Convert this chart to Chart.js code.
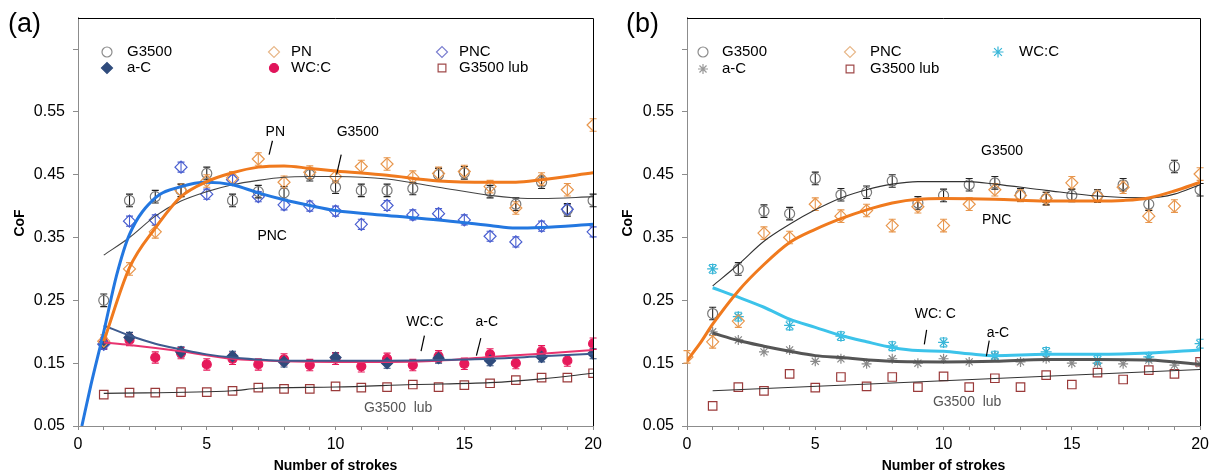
<!DOCTYPE html>
<html>
<head>
<meta charset="utf-8">
<script src="https://cdn.jsdelivr.net/npm/chart.js@4.4.1/dist/chart.umd.min.js"></script>
<style>
  html, body { margin: 0; padding: 0; background: #fff; }
  #wrap { position: relative; width: 1214px; height: 471px; overflow: hidden; }
  .panel { position: absolute; top: 0; width: 607px; height: 471px; }
  #pa { left: 0; }
  #pb { left: 607px; }
</style>
</head>
<body>
<div id="wrap">
  <div class="panel" id="pa"><canvas id="ca"></canvas></div>
  <div class="panel" id="pb"><canvas id="cb"></canvas></div>
</div>
<script>
// ---- data --------------------------------------------------------------
const strokes   = [1,2,3,4,5,6,7,8,9,10,11,12,13,14,15,16,17,18,19,20];
const strokes0  = [0,1,2,3,4,5,6,7,8,9,10,11,12,13,14,15,16,17,18,19,20];
const evenStrokes = [1,2,4,6,8,10,12,14,16,18,20];
const yTicks = [0.05,0.15,0.25,0.35,0.45,0.55,0.65];

// panel (a): measured points
const aG3500 = [0.250,0.409,0.415,0.425,0.452,0.409,0.423,0.421,0.450,0.430,0.425,0.425,0.428,0.450,0.453,0.423,0.403,0.438,0.394,0.409];
const aPN    = [0.185,0.300,0.359,0.425,0.440,0.445,0.475,0.438,0.454,0.447,0.463,0.467,0.446,0.452,0.455,0.431,0.397,0.443,0.426,0.529];
const aPNC   = [0.180,0.376,0.378,0.462,0.419,0.442,0.415,0.402,0.400,0.392,0.371,0.401,0.386,0.388,0.378,0.352,0.343,0.368,0.395,0.359];
const aAC    = [0.181,0.191,0.168,0.161,0.152,0.159,0.150,0.158,0.154,0.160,0.165];
const aWCC   = [0.182,0.187,0.159,0.166,0.148,0.157,0.148,0.156,0.147,0.157,0.145,0.157,0.147,0.161,0.149,0.164,0.150,0.169,0.154,0.181];
const aLub   = [0.100,0.103,0.103,0.104,0.104,0.106,0.111,0.109,0.109,0.113,0.111,0.112,0.116,0.112,0.115,0.118,0.123,0.127,0.127,0.134];

// panel (a): trend curves
const aFitPNx  = [1,2,3,4,5,6,7,8,9,10,12,14,16,17,18,20];
const aFitPN   = [0.185,0.302,0.365,0.415,0.439,0.453,0.462,0.464,0.460,0.456,0.449,0.440,0.438,0.438,0.442,0.453];
const aFitPNCx = [0.15,0.5,1,1.5,2,3,4,5,6,7,8,9,10,12,14,16,17,18,20];
const aFitPNC  = [0.050,0.115,0.200,0.290,0.355,0.413,0.431,0.438,0.434,0.421,0.410,0.401,0.393,0.385,0.378,0.369,0.365,0.366,0.371];
const aFitGx   = [1,2,3,4,5,6,7,8,9,10,12,14,16,17,18,20];
const aFitG    = [0.322,0.350,0.384,0.408,0.423,0.434,0.441,0.446,0.447,0.447,0.443,0.430,0.417,0.413,0.412,0.415];
const aFitACx  = [1,2,3,4,5,6,8,10,12,14,16,18,20];
const aFitAC   = [0.210,0.194,0.181,0.172,0.164,0.159,0.154,0.154,0.154,0.155,0.157,0.161,0.165];
const aFitWCCx = [1,2,4,6,8,10,12,14,16,18,20];
const aFitWCC  = [0.183,0.179,0.169,0.157,0.153,0.152,0.152,0.154,0.160,0.165,0.171];
const aFitLubx = [1,6,7,10,13,16,18,20];
const aFitLub  = [0.102,0.106,0.110,0.112,0.116,0.119,0.125,0.134];

// panel (b): measured points
const bG3500 = [0.229,0.300,0.392,0.388,0.444,0.418,0.422,0.440,0.405,0.417,0.434,0.437,0.418,0.412,0.417,0.416,0.434,0.403,0.463,0.426];
const bPNC   = [0.160,0.184,0.217,0.357,0.350,0.403,0.384,0.393,0.369,0.399,0.369,0.403,0.426,0.417,0.412,0.437,0.416,0.430,0.384,0.400,0.451];
const bWCC   = [0.300,0.224,0.210,0.193,0.177,0.183,0.162,0.168,0.155,0.160,0.181];
const bAC    = [0.200,0.187,0.168,0.171,0.153,0.157,0.149,0.157,0.150,0.157,0.152,0.161,0.152,0.157,0.150,0.150,0.149,0.155,0.147,0.149];
const bLub   = [0.082,0.112,0.106,0.133,0.111,0.128,0.113,0.128,0.112,0.129,0.112,0.126,0.112,0.131,0.116,0.135,0.124,0.139,0.133,0.152];

// panel (b): trend curves
const bFitGx   = [1,2,3,4,5,6,7,8,9,10,11,12,14,16,18,19,20];
const bFitG    = [0.273,0.307,0.344,0.371,0.394,0.413,0.426,0.435,0.439,0.439,0.439,0.435,0.425,0.416,0.413,0.419,0.434];
const bFitPNCx = [0,0.5,1,2,3,4,5,6,7,8,9,10,12,14,16,17,18,19,20];
const bFitPNC  = [0.154,0.181,0.212,0.265,0.307,0.342,0.363,0.380,0.394,0.405,0.411,0.412,0.411,0.408,0.408,0.409,0.413,0.424,0.438];
const bFitWCCx = [1,2,3,4,5,6,7,8,9,10,11,12,14,16,18,20];
const bFitWCC  = [0.270,0.255,0.239,0.220,0.207,0.194,0.184,0.175,0.170,0.169,0.165,0.162,0.164,0.164,0.166,0.171];
const bFitACx  = [1,2,3,4,5,6,8,10,12,14,16,18,20];
const bFitAC   = [0.198,0.186,0.177,0.169,0.162,0.159,0.153,0.152,0.153,0.156,0.156,0.155,0.148];
const bFitLubx = [1,20];
const bFitLub  = [0.106,0.140];

// ---- helpers ------------------------------------------------------------
const FONT = '"Liberation Sans", Arial, Helvetica, sans-serif';
const pts = (xs, ys) => xs.map((x, i) => ({ x: x, y: ys[i] }));

function markerSet(xs, ys, style, stroke, fill, r, err, errColor) {
    return {
        data: pts(xs, ys), showLine: false,
        pointStyle: style, pointRadius: r, pointBorderWidth: 1.2,
        pointBorderColor: stroke, pointBackgroundColor: fill || 'rgba(0,0,0,0)',
        err: err || 0, errColor: errColor || stroke,
    };
}
function fitSet(xs, ys, color, width) {
    return {
        data: pts(xs, ys), showLine: true, fill: false,
        borderColor: color, borderWidth: width, pointRadius: 0,
        cubicInterpolationMode: 'monotone',
    };
}

// vertical error bars with caps, drawn under the markers
const errorBars = {
    id: 'errorBars',
    beforeDatasetsDraw(chart) {
        const ctx = chart.ctx, ys = chart.scales.y;
        ctx.save();
        ctx.lineWidth = 1.1;
        chart.data.datasets.forEach((ds, i) => {
            if (!ds.err) return;
            ctx.strokeStyle = ds.errColor;
            chart.getDatasetMeta(i).data.forEach((el, j) => {
                const v = ds.data[j].y;
                const y1 = ys.getPixelForValue(v - ds.err);
                const y2 = ys.getPixelForValue(v + ds.err);
                ctx.beginPath();
                ctx.moveTo(el.x, y1); ctx.lineTo(el.x, y2);
                ctx.moveTo(el.x - 3.5, y1); ctx.lineTo(el.x + 3.5, y1);
                ctx.moveTo(el.x - 3.5, y2); ctx.lineTo(el.x + 3.5, y2);
                ctx.stroke();
            });
        });
        ctx.restore();
    },
};

function drawMarker(ctx, m, x, y) {
    ctx.save();
    ctx.strokeStyle = m.stroke;
    ctx.fillStyle = m.fill || 'rgba(0,0,0,0)';
    ctx.lineWidth = 1.2;
    Chart.helpers.drawPoint(ctx, { pointStyle: m.style, radius: m.r, rotation: 0, borderWidth: 1.2 }, x, y);
    ctx.restore();
}

// frame, panel tag, axis titles, legend and in-plot labels
function deco(cfg) {
    return {
        id: 'deco',
        afterDraw(chart) {
            const ctx = chart.ctx, a = chart.chartArea;
            const xs = chart.scales.x, ys = chart.scales.y;
            ctx.save();
            ctx.strokeStyle = '#000';
            ctx.lineWidth = 1;
            ctx.beginPath();
            ctx.moveTo(a.left, Math.round(a.top) + 0.5);
            ctx.lineTo(Math.round(a.right) + 0.5, Math.round(a.top) + 0.5);
            ctx.lineTo(Math.round(a.right) + 0.5, a.bottom);
            ctx.stroke();

            ctx.fillStyle = '#000';
            ctx.font = '27px ' + FONT;
            ctx.textAlign = 'left';
            ctx.textBaseline = 'middle';
            ctx.fillText(cfg.tag, cfg.tagX, 25);

            ctx.save();
            ctx.translate(cfg.yTitleX, 223);
            ctx.rotate(-Math.PI / 2);
            ctx.font = 'bold 14px ' + FONT;
            ctx.textAlign = 'center';
            ctx.fillText('CoF', 0, 0);
            ctx.restore();

            ctx.font = 'bold 14px ' + FONT;
            ctx.textAlign = 'center';
            ctx.textBaseline = 'alphabetic';
            ctx.fillText('Number of strokes', (a.left + a.right) / 2, 470);

            ctx.font = '15px ' + FONT;
            ctx.textAlign = 'left';
            ctx.textBaseline = 'middle';
            cfg.legend.forEach((m) => {
                drawMarker(ctx, m, m.mx, m.my);
                ctx.fillStyle = '#000';
                ctx.fillText(m.text, m.tx, m.my);
            });

            ctx.font = '14px ' + FONT;
            ctx.textAlign = 'center';
            cfg.notes.forEach((n) => {
                ctx.fillStyle = n.color || '#000';
                ctx.fillText(n.text, xs.getPixelForValue(n.x), ys.getPixelForValue(n.y));
            });
            ctx.strokeStyle = '#000';
            ctx.lineWidth = 1.2;
            cfg.leaders.forEach((l) => {
                ctx.beginPath();
                ctx.moveTo(xs.getPixelForValue(l[0]), ys.getPixelForValue(l[1]));
                ctx.lineTo(xs.getPixelForValue(l[2]), ys.getPixelForValue(l[3]));
                ctx.stroke();
            });
            ctx.restore();
        },
    };
}

function makeOptions(yWidth, padRight) {
    const axisGray = '#8c8c8c';
    return {
        responsive: true,
        maintainAspectRatio: false,
        animation: false,
        events: [],
        layout: { padding: { left: 0, right: padRight, top: 16, bottom: 0 } },
        plugins: { legend: { display: false }, tooltip: { enabled: false } },
        scales: {
            x: {
                type: 'linear', min: 0, max: 20,
                afterFit: (s) => { s.height = 45; },
                ticks: {
                    stepSize: 1, autoSkip: false, maxRotation: 0, padding: 5,
                    color: '#000', font: { family: FONT, size: 16 },
                    callback: (v) => (v % 5 === 0 ? String(v) : ''),
                },
                grid: { drawOnChartArea: false, drawTicks: true, tickLength: 4, color: axisGray },
                border: { color: axisGray },
            },
            y: {
                type: 'linear', min: 0.05, max: 0.70,
                afterBuildTicks: (s) => { s.ticks = yTicks.map((v) => ({ value: v })); },
                afterFit: (s) => { s.width = yWidth; },
                ticks: {
                    padding: 8, color: '#000', font: { family: FONT, size: 16 },
                    callback: (v) => (v <= 0.56 ? v.toFixed(2) : ''),
                },
                grid: { drawOnChartArea: false, drawTicks: true, tickLength: 5, color: axisGray },
                border: { color: axisGray },
            },
        },
    };
}

// ---- panel (a) ----------------------------------------------------------
new Chart(document.getElementById('ca'), {
    type: 'scatter',
    data: { datasets: [
        fitSet(aFitPNx,  aFitPN,  '#f07a1e', 3),
        fitSet(aFitPNCx, aFitPNC, '#2377e0', 3),
        fitSet(aFitGx,   aFitG,   '#444444', 1.1),
        fitSet(aFitACx,  aFitAC,  '#3d5a8e', 2),
        fitSet(aFitWCCx, aFitWCC, '#e8336f', 2),
        fitSet(aFitLubx, aFitLub, '#333333', 1.1),
        markerSet(strokes, aPN,    'rectRot', '#e8974e', null, 6, 0.010, '#e8974e'),
        markerSet(strokes, aPNC,   'rectRot', '#4a5fd0', null, 6, 0.008, '#4a5fd0'),
        markerSet(strokes, aG3500, 'circle',  '#7a7a7a', null, 5, 0.010, '#222222'),
        markerSet(evenStrokes, aAC, 'rectRot', '#2f4b7c', '#2f4b7c', 5.5, 0.008, '#2f4b7c'),
        markerSet(strokes, aWCC,   'circle',  '#e6195a', '#e6195a', 4.5, 0.009, '#e6195a'),
        markerSet(strokes, aLub,   'rect',    '#9a3a3a', null, 6, 0, null),
    ]},
    options: makeOptions(78, 11),
    plugins: [errorBars, deco({
        tag: '(a)', tagX: 8, yTitleX: 20,
        legend: [
            { text: 'G3500',     style: 'circle',  stroke: '#8c8c8c', r: 5,   mx: 107, tx: 127, my: 52 },
            { text: 'a-C',       style: 'rectRot', stroke: '#2f4b7c', fill: '#2f4b7c', r: 5.5, mx: 107, tx: 127, my: 68 },
            { text: 'PN',        style: 'rectRot', stroke: '#e8b88a', r: 5.5, mx: 274, tx: 291, my: 52 },
            { text: 'WC:C',      style: 'circle',  stroke: '#e0145a', fill: '#e0145a', r: 4.5, mx: 274, tx: 291, my: 68 },
            { text: 'PNC',       style: 'rectRot', stroke: '#7b7fd0', r: 5.5, mx: 442, tx: 459, my: 52 },
            { text: 'G3500 lub', style: 'rect',    stroke: '#a04a4a', r: 5.5, mx: 442, tx: 459, my: 68 },
        ],
        notes: [
            { text: 'PN',        x: 7.66,  y: 0.517 },
            { text: 'G3500',     x: 10.86, y: 0.517 },
            { text: 'PNC',       x: 7.54,  y: 0.352 },
            { text: 'WC:C',      x: 13.47, y: 0.215 },
            { text: 'a-C',       x: 15.87, y: 0.215 },
            { text: 'G3500  lub', x: 12.43, y: 0.078, color: '#555555' },
        ],
        leaders: [
            [7.55, 0.504, 7.42, 0.482],
            [10.22, 0.482, 10.04, 0.450],
            [13.45, 0.194, 13.32, 0.169],
            [15.64, 0.190, 15.47, 0.162],
        ],
    })],
});

// ---- panel (b) ----------------------------------------------------------
new Chart(document.getElementById('cb'), {
    type: 'scatter',
    data: { datasets: [
        fitSet(bFitPNCx, bFitPNC, '#f07a1e', 3),
        fitSet(bFitWCCx, bFitWCC, '#3cc3ea', 3),
        fitSet(bFitACx,  bFitAC,  '#555555', 3),
        fitSet(bFitGx,   bFitG,   '#333333', 1.1),
        fitSet(bFitLubx, bFitLub, '#333333', 1.1),
        markerSet(strokes0, bPNC,   'rectRot', '#e8974e', null, 6, 0.010, '#e8974e'),
        markerSet(strokes,  bG3500, 'circle',  '#7a7a7a', null, 5, 0.010, '#222222'),
        markerSet(evenStrokes, bWCC, 'star',   '#38b6d8', null, 5.5, 0.007, '#38b6d8'),
        markerSet(strokes,  bAC,    'star',    '#8a8a8a', null, 5, 0, null),
        markerSet(strokes,  bLub,   'rect',    '#9a3a3a', null, 6, 0, null),
    ]},
    options: makeOptions(80, 12),
    plugins: [errorBars, deco({
        tag: '(b)', tagX: 19, yTitleX: 21,
        legend: [
            { text: 'G3500',     style: 'circle',  stroke: '#8c8c8c', r: 5,   mx: 96,  tx: 115, my: 52 },
            { text: 'a-C',       style: 'star',    stroke: '#9a9a9a', r: 5,   mx: 96,  tx: 115, my: 69 },
            { text: 'PNC',       style: 'rectRot', stroke: '#e8b88a', r: 5.5, mx: 243, tx: 263, my: 52 },
            { text: 'G3500 lub', style: 'rect',    stroke: '#a04a4a', r: 5.5, mx: 243, tx: 263, my: 69 },
            { text: 'WC:C',      style: 'star',    stroke: '#38b6d8', r: 5.5, mx: 391, tx: 412, my: 52 },
        ],
        notes: [
            { text: 'G3500',     x: 12.28, y: 0.487 },
            { text: 'PNC',       x: 12.07, y: 0.378 },
            { text: 'WC: C',     x: 9.68,  y: 0.228 },
            { text: 'a-C',       x: 12.12, y: 0.198 },
            { text: 'G3500  lub', x: 10.92, y: 0.088, color: '#555555' },
        ],
        leaders: [
            [9.34, 0.203, 9.25, 0.180],
            [11.78, 0.186, 11.67, 0.161],
        ],
    })],
});
</script>
</body>
</html>
